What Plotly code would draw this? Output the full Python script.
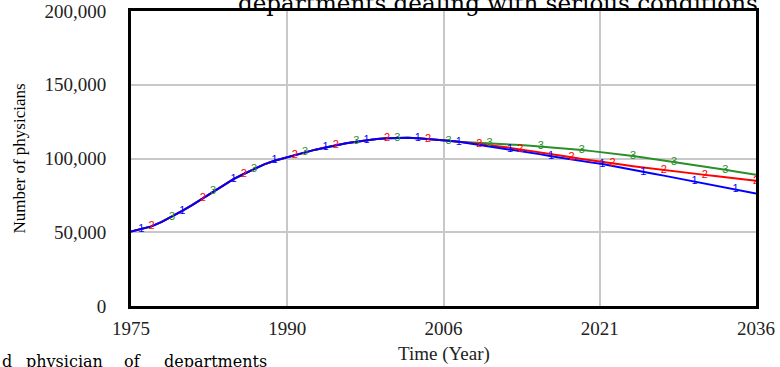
import plotly.graph_objects as go

years = list(range(1975, 2037))

common = [50500, 52000, 54000, 57000, 60500, 64500, 68500, 73000, 77500, 82000,
          86000, 89500, 93000, 96000, 98500, 100500, 102500, 104300, 106000, 107500,
          109000, 110300, 111400, 112400, 113200, 113700, 114000, 114000, 113800, 113300,
          112700, 112000, 111300]

series1_tail = [110300, 109200, 108200, 107200, 106200, 105100, 104000, 102800, 101600, 100400,
                99200, 98200, 97200, 96200, 95000, 93700, 92400, 91000, 89700, 88400,
                87100, 85800, 84500, 83200, 81900, 80500, 79100, 77600, 76200]
series2_tail = [110600, 109800, 109000, 108100, 107200, 106200, 105200, 104100, 103000, 101900,
                100800, 99700, 98600, 97600, 96600, 95700, 94800, 93900, 93000, 92100,
                91300, 90500, 89700, 88900, 88100, 87300, 86500, 85700, 84900]
series3_tail = [111000, 110700, 110400, 110000, 109600, 109100, 108600, 108100, 107500, 106900,
                106300, 105700, 105000, 104300, 103500, 102600, 101700, 100700, 99700, 98700,
                97700, 96700, 95600, 94500, 93400, 92300, 91200, 90100, 89000]

series1 = common + series1_tail
series2 = common + series2_tail
series3 = common + series3_tail

markers1 = [1976, 1980, 1985, 1989, 1994, 1998, 2003, 2007, 2012, 2016, 2021, 2025, 2030, 2034]
markers2 = [1977, 1982, 1986, 1991, 1995, 2000, 2004, 2009, 2013, 2018, 2022, 2027, 2031, 2036]
markers3 = [1979, 1983, 1987, 1992, 1997, 2001, 2006, 2010, 2015, 2019, 2024, 2028, 2033]

x_tickvals = [1975, 1990.25, 2005.5, 2020.75, 2036]
x_ticktext = ["1975", "1990", "2006", "2021", "2036"]
y_tickvals = [0, 50000, 100000, 150000, 200000]
y_ticktext = ["0", "50,000", "100,000", "150,000", "200,000"]

title_text = "departments dealing with serious conditions"
caption_words = ["d", "physician", "of", "departments"]

colors = {"1": "#0000ff", "2": "#ff0000", "3": "#2a8f2a"}

fig = go.Figure()
for label, ser, mk in [("3", series3, markers3), ("2", series2, markers2), ("1", series1, markers1)]:
    fig.add_trace(go.Scatter(x=years, y=ser, mode="lines",
                             line=dict(color=colors[label], width=2), showlegend=False))
for label, ser, mk in [("3", series3, markers3), ("2", series2, markers2), ("1", series1, markers1)]:
    fig.add_trace(go.Scatter(x=mk, y=[ser[years.index(m)] for m in mk], mode="text",
                             text=[label] * len(mk), textposition="middle center",
                             textfont=dict(family="Liberation Sans, Arial, sans-serif", size=11,
                                           color=colors[label]),
                             cliponaxis=False, showlegend=False))

serif = "Liberation Serif, Tinos, Times New Roman, serif"
wide_serif = "DejaVu Serif, serif"
fig.update_layout(
    width=780, height=367,
    margin=dict(l=131, r=24, t=11, b=61),
    paper_bgcolor="white", plot_bgcolor="white",
    xaxis=dict(range=[1975, 2036], tickvals=x_tickvals, ticktext=x_ticktext,
               showgrid=True, gridcolor="#c8c8c8", gridwidth=2, automargin=False,
               showline=True, linecolor="black", linewidth=3, mirror=True,
               ticks="", ticklabelstandoff=3,
               tickfont=dict(family=serif, size=19, color="#222"), zeroline=False),
    yaxis=dict(range=[0, 200000], tickvals=y_tickvals, ticktext=y_ticktext,
               showgrid=True, gridcolor="#c8c8c8", gridwidth=2, automargin=False,
               showline=True, linecolor="black", linewidth=3, mirror=True,
               ticks="", ticklabelstandoff=18,
               tickfont=dict(family=serif, size=19, color="#222"), zeroline=False),
)

annotations = [
    dict(text=title_text, xref="paper", yref="paper", x=0.587, y=1, xanchor="center",
         yanchor="bottom", yshift=-7, showarrow=False,
         font=dict(family=wide_serif, size=23, color="black")),
    dict(text="Number of physicians", xref="paper", yref="paper", x=0, y=0.5,
         xanchor="center", yanchor="middle", xshift=-112, textangle=-90, showarrow=False,
         font=dict(family=serif, size=17, color="black")),
    dict(text="Time (Year)", xref="paper", yref="paper", x=0.5, y=0,
         xanchor="center", yanchor="middle", yshift=-48, showarrow=False,
         font=dict(family=serif, size=19, color="#222")),
]
word_px = [0, 24, 122, 162]
for w, px in zip(caption_words, word_px):
    annotations.append(dict(text=w, xref="paper", yref="paper", x=(px - 131) / 625, y=0,
                            xanchor="left", yanchor="bottom", yshift=-67, showarrow=False,
                            font=dict(family=wide_serif, size=16, color="black")))
fig.update_layout(annotations=annotations)

fig.write_html("out.html")
